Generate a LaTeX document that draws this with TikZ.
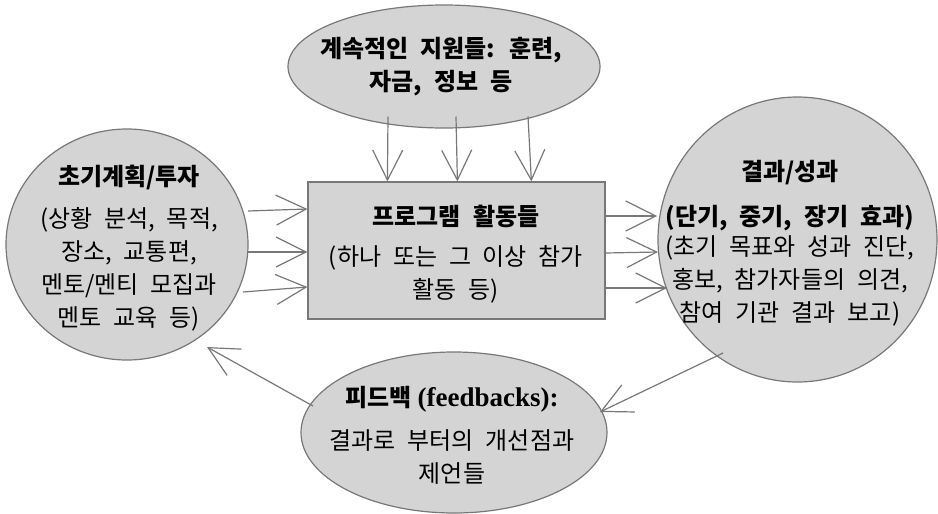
\documentclass[tikz,border=0pt]{standalone}
\usepackage{fontspec}
\setmainfont{Liberation Serif}
\newfontfamily\ko[WordSpace={2.2,0,0}]{Noto Sans CJK KR}
\usetikzlibrary{shapes.geometric,arrows.meta,calc}
\definecolor{shapefill}{RGB}{212,212,212}
\definecolor{edgegray}{RGB}{120,120,120}
\begin{document}
\begin{tikzpicture}[x=0.5pt,y=-0.5pt,
  blob/.style={draw=edgegray, fill=shapefill, line width=0.6pt, inner sep=0pt},
  oval/.style={blob, ellipse},
  txt/.style={align=center, inner sep=0pt, font=\ko\fontsize{12}{16.5}\selectfont},
  arr/.style={draw=edgegray, line width=0.6pt, -{Straight Barb[length=15pt,width=15pt,line width=0.6pt]}},
]
\useasboundingbox (0,0) rectangle (938,514);

% shapes
\node[oval, minimum width=156pt, minimum height=61.5pt] (topov) at (444,66.5) {};
\node[oval, minimum width=121pt, minimum height=115.5pt] (left) at (127,244.5) {};
\node[oval, minimum width=139.5pt, minimum height=142.5pt] (right) at (797.5,239.5) {};
\node[oval, minimum width=153pt, minimum height=80.5pt] (bottom) at (454,432.5) {};
\node[blob, minimum width=148.5pt, minimum height=68.5pt] (box) at (456.5,250.5) {};

% texts
\node[txt] (toptext) at (441,66.5) {\bfseries 계속적인 지원들: 훈련,\\ \bfseries 자금, 정보 등};
\node[txt] (lefttext) at (129,248) {\bfseries 초기계획/투자\\[4.5pt] (상황 분석, 목적,\\ 장소, 교통편,\\ 멘토/멘티 모집과\\ 멘토 교육 등)};
\node[txt] (righttext) at (790,243) {\bfseries 결과/성과\\[6pt] \bfseries (단기, 중기, 장기 효과)\\[-1.5pt] (초기 목표와 성과 진단,\\ 홍보, 참가자들의 의견,\\ 참여 기관 결과 보고)};
\node[txt] (boxtext) at (456,254.5) {\bfseries 프로그램 활동들\\[3.5pt] (하나 또는 그 이상 참가\\ 활동 등)};
\node[txt] (bottomtext) at (452,435) {\bfseries 피드백\hspace{3pt}{\rmfamily\fontsize{13.5}{16.5}\selectfont (feedbacks):}\\[5pt] 결과로 부터의 개선점과\\ 제언들};

% connectors: support -> activities
\draw[arr] ($(topov.center)+(-56,50)$) -- ($(box.north west)+(80,0)$);
\draw[arr] ($(topov.center)+(12,50)$) -- ($(box.north west)+(150,0)$);
\draw[arr] ($(topov.center)+(84,50)$) -- ($(box.north west)+(224,0)$);

% initial planning -> activities
\draw[arr] ($(left.center)+(121,-33.5)$) -- ($(box.west)+(0,-41.5)$);
\draw[arr] ($(left.center)+(121,7.5)$) -- ($(box.west)+(0,1.5)$);
\draw[arr] ($(left.center)+(116,47.5)$) -- ($(box.west)+(0,36.5)$);

% activities -> outcomes
\draw[arr] ($(box.east)+(0,-34.5)$) -- ($(right.center)+(-140.5,-23.5)$);
\draw[arr] ($(box.east)+(0,2.5)$) -- ($(right.center)+(-139.5,12.5)$);
\draw[arr] ($(box.east)+(0,37.5)$) -- ($(right.center)+(-130.5,48.5)$);

% outcomes -> feedback -> planning
\draw[arr] ($(right.center)+(-74.5,113.5)$) -- ($(bottom.center)+(146,-20.5)$);
\draw[arr] ($(bottom.center)+(-141,-26.5)$) -- ($(left.center)+(80,102.5)$);
\end{tikzpicture}
\end{document}
